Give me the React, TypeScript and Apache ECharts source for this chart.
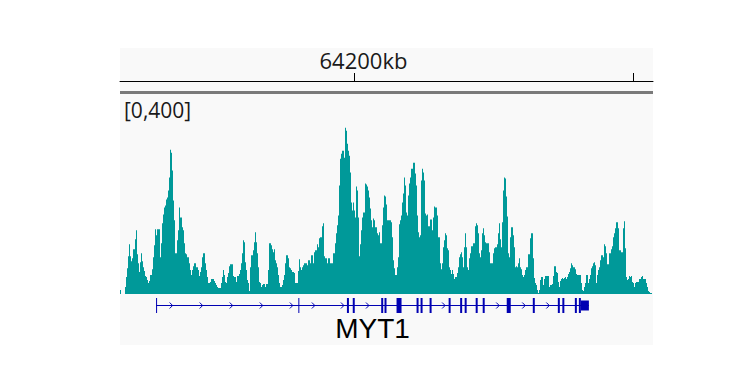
import { useEffect, useRef } from "react";
import * as echarts from "echarts";

// ---- genomic view ----
const viewStartKb = 64183.165;
const viewEndKb = 64221.438;
const rulerTicksKb = [64200, 64220];
const rulerTickLabels = ["64200kb", "64220kb"];

// ---- coverage track ----
const dataRange = [0, 400];
const coverage = [
  8, 0, 0, 0, 0, 14, 34, 52, 76, 100,
  76, 66, 72, 90, 90, 110, 128, 80, 62, 44,
  64, 82, 66, 54, 46, 36, 34, 28, 22, 26,
  38, 38, 50, 74, 98, 130, 118, 130, 130, 130,
  74, 102, 142, 160, 174, 178, 190, 194, 208, 234,
  290, 284, 248, 188, 148, 82, 82, 108, 128, 174,
  154, 154, 134, 128, 102, 82, 80, 74, 74, 62,
  48, 38, 48, 56, 62, 62, 54, 54, 48, 36,
  44, 54, 74, 82, 82, 62, 48, 34, 22, 22,
  24, 30, 30, 30, 26, 22, 18, 14, 12, 12,
  12, 22, 34, 48, 38, 24, 22, 34, 42, 56,
  60, 60, 60, 36, 34, 34, 24, 36, 36, 40,
  48, 62, 82, 108, 104, 64, 48, 28, 22, 6,
  54, 78, 78, 88, 104, 124, 104, 82, 54, 24,
  22, 14, 18, 20, 20, 14, 20, 20, 48, 102,
  102, 98, 90, 84, 90, 68, 62, 54, 38, 22,
  14, 14, 18, 28, 38, 62, 78, 78, 72, 54,
  52, 48, 44, 44, 42, 22, 22, 22, 46, 70,
  54, 48, 54, 58, 62, 62, 62, 58, 68, 68,
  62, 78, 78, 62, 84, 88, 88, 100, 94, 112,
  114, 114, 136, 142, 76, 72, 72, 62, 72, 72,
  62, 62, 62, 82, 82, 102, 122, 138, 158, 218,
  272, 282, 288, 288, 274, 334, 328, 302, 288, 278,
  244, 184, 168, 184, 168, 154, 216, 208, 154, 76,
  100, 128, 154, 164, 164, 222, 220, 216, 208, 194,
  172, 148, 134, 152, 148, 134, 134, 122, 118, 124,
  102, 102, 138, 174, 198, 196, 180, 148, 148, 148,
  148, 144, 114, 68, 52, 38, 38, 54, 74, 140,
  148, 158, 184, 202, 234, 218, 164, 158, 198, 222,
  234, 252, 252, 264, 264, 242, 218, 158, 124, 114,
  118, 228, 252, 244, 228, 162, 158, 160, 136, 136,
  150, 150, 128, 154, 176, 174, 174, 158, 114, 114,
  62, 50, 62, 94, 108, 122, 118, 92, 88, 54,
  48, 40, 48, 40, 30, 34, 34, 42, 54, 74,
  80, 84, 74, 54, 94, 122, 94, 54, 48, 72,
  82, 96, 96, 102, 102, 136, 142, 138, 122, 82,
  74, 88, 122, 132, 118, 104, 102, 102, 102, 84,
  62, 62, 62, 82, 92, 94, 94, 100, 122, 142,
  110, 94, 144, 208, 234, 232, 196, 156, 82, 74,
  114, 134, 134, 118, 94, 54, 56, 54, 62, 72,
  54, 50, 38, 34, 38, 48, 54, 54, 80, 80,
  112, 122, 122, 72, 32, 22, 18, 8, 2, 8,
  28, 34, 34, 18, 30, 36, 36, 36, 36, 14,
  18, 18, 20, 36, 56, 56, 44, 42, 24, 14,
  26, 30, 32, 30, 32, 34, 30, 34, 40, 44,
  52, 62, 58, 54, 54, 50, 40, 38, 38, 38,
  38, 22, 8, 6, 14, 22, 38, 38, 22, 30,
  38, 52, 56, 62, 64, 58, 22, 38, 48, 54,
  68, 78, 78, 74, 100, 96, 82, 60, 60, 82,
  82, 90, 96, 114, 122, 132, 144, 144, 132, 88,
  88, 84, 84, 132, 146, 92, 34, 28, 30, 36,
  34, 36, 24, 22, 14, 22, 24, 24, 24, 30,
  30, 34, 36, 30, 30, 30, 22, 14, 6, 4,
  2, 2,
];
const coverageBins = coverage.map((_, i) => String(i));

// ---- gene track ----
const geneName = "MYT1";
const geneSpanKb = [64185.755, 64216.835];
const exonStartKb = [
  64185.755, 64195.971, 64199.46, 64199.878, 64201.921, 64202.158, 64203.022,
  64204.46, 64204.748, 64205.396, 64206.763, 64207.59, 64207.914, 64208.705,
  64209.209, 64210.935, 64212.806, 64214.604, 64214.928, 64215.827, 64216.115,
  64216.259,
];
const exonEndKb = [
  64185.827, 64196.043, 64199.604, 64200.022, 64202.065, 64202.302, 64203.381,
  64204.604, 64204.892, 64205.54, 64206.906, 64207.734, 64208.058, 64208.849,
  64209.353, 64211.223, 64212.95, 64214.748, 64215.072, 64215.971, 64216.259,
  64216.835,
];
const exonIsUtr = [
  false, false, false, false, false, false, false, false, false, false, false,
  false, false, false, false, false, false, false, false, false, false, true,
];
const strandArrowsKb = [
  64186.835, 64188.993, 64191.151, 64193.309, 64195.468, 64197.05, 64199.137,
  64200.935, 64206.403, 64210.288, 64212.158, 64213.885,
];

const TEAL = "#009999";
const BLUE = "#0000b2";

export default function App() {
  const ref = useRef<HTMLDivElement>(null);

  useEffect(() => {
    if (!ref.current) return;
    const chart = echarts.init(ref.current, undefined, { renderer: "svg" });

    const hiddenValueAxis = (gridIndex: number, min: number, max: number) => ({
      type: "value",
      gridIndex,
      min,
      max,
      show: false,
    });

    const option: any = {
      animation: false,
      backgroundColor: "#ffffff",
      graphic: [
        {
          type: "rect",
          z: -10,
          silent: true,
          shape: { x: 120, y: 48, width: 533, height: 297 },
          style: { fill: "#f9f9f9" },
        },
        {
          type: "rect",
          z: 10,
          silent: true,
          shape: { x: 120, y: 91, width: 533, height: 3 },
          style: { fill: "#7a7a7a" },
        },
        {
          type: "text",
          z: 10,
          x: 124,
          y: 99,
          style: {
            text: `[${dataRange[0]},${dataRange[1]}]`,
            font: '21px "Open Sans"',
            fill: "#1a1a1a",
            verticalAlign: "top",
          },
        },
      ],
      grid: [
        { left: 120, width: 533, top: 48, height: 33 },
        { left: 120, width: 532, top: 95, height: 199 },
        { left: 120, width: 533, top: 296, height: 49 },
      ],
      xAxis: [
        {
          type: "value",
          gridIndex: 0,
          min: viewStartKb,
          max: viewEndKb,
          axisLine: { show: true, onZero: false, lineStyle: { color: "#000", width: 1 } },
          axisTick: { show: false },
          axisLabel: { show: false },
          splitLine: { show: false },
        },
        {
          type: "category",
          gridIndex: 1,
          data: coverageBins,
          show: false,
        },
        hiddenValueAxis(2, viewStartKb, viewEndKb),
      ],
      yAxis: [
        hiddenValueAxis(0, 0, 1),
        hiddenValueAxis(1, dataRange[0], dataRange[1]),
        hiddenValueAxis(2, 0, 1),
      ],
      series: [
        {
          type: "custom",
          xAxisIndex: 0,
          yAxisIndex: 0,
          data: rulerTicksKb.map((t, i) => [t, i]),
          renderItem: (params: any, api: any) => {
            const x = Math.round(api.coord([api.value(0), 0])[0]) + 0.5;
            const cs = params.coordSys;
            const bottom = cs.y + cs.height;
            const label = rulerTickLabels[api.value(1)];
            const children: any[] = [
              {
                type: "line",
                shape: { x1: x, y1: bottom - 8, x2: x, y2: bottom },
                style: { stroke: "#000", lineWidth: 1 },
              },
            ];
            if (x + 9 + 46 < cs.x + cs.width) {
              children.push({
                type: "text",
                style: {
                  text: label,
                  x: x + 9,
                  y: cs.y + 12,
                  align: "center",
                  verticalAlign: "middle",
                  font: '22px "Open Sans"',
                  fill: "#1a1a1a",
                },
              });
            }
            return { type: "group", children };
          },
        },
        {
          type: "bar",
          xAxisIndex: 1,
          yAxisIndex: 1,
          data: coverage,
          barCategoryGap: "0%",
          barGap: "0%",
          itemStyle: { color: TEAL },
          silent: true,
        },
        {
          type: "custom",
          xAxisIndex: 2,
          yAxisIndex: 2,
          data: [[geneSpanKb[0], geneSpanKb[1]]],
          renderItem: (params: any, api: any) => {
            const x0 = api.coord([api.value(0), 0])[0];
            const x1 = api.coord([api.value(1), 0])[0];
            const cs = params.coordSys;
            const y = cs.y + 9.5;
            return {
              type: "group",
              children: [
                {
                  type: "line",
                  shape: { x1: x0, y1: y, x2: x1, y2: y },
                  style: { stroke: BLUE, lineWidth: 1 },
                },
                {
                  type: "text",
                  style: {
                    text: geneName,
                    x: (x0 + x1) / 2,
                    y: cs.y + 32,
                    align: "center",
                    verticalAlign: "middle",
                    font: '28px "Liberation Sans"',
                    fill: "#000",
                  },
                },
              ],
            };
          },
        },
        {
          type: "custom",
          xAxisIndex: 2,
          yAxisIndex: 2,
          data: strandArrowsKb.map((p) => [p, 0]),
          renderItem: (params: any, api: any) => {
            const x = api.coord([api.value(0), 0])[0];
            const y = params.coordSys.y + 9.5;
            return {
              type: "polyline",
              shape: { points: [[x - 1.5, y - 3], [x + 1.5, y], [x - 1.5, y + 3]] },
              style: { stroke: BLUE, lineWidth: 1, fill: "none" },
            };
          },
        },
        {
          type: "custom",
          xAxisIndex: 2,
          yAxisIndex: 2,
          data: exonStartKb.map((s, i) => [s, exonEndKb[i], exonIsUtr[i] ? 1 : 0]),
          renderItem: (params: any, api: any) => {
            const x0 = api.coord([api.value(0), 0])[0];
            const x1 = api.coord([api.value(1), 0])[0];
            const utr = api.value(2) === 1;
            const cs = params.coordSys;
            const top = cs.y + (utr ? 4.5 : 2);
            const h = utr ? 10 : 15;
            return {
              type: "rect",
              shape: { x: x0, y: top, width: Math.max(1, x1 - x0), height: h },
              style: { fill: BLUE },
            };
          },
        },
      ],
    };

    chart.setOption(option);
    return () => chart.dispose();
  }, []);

  return (
    <div
      ref={ref}
      style={{ position: "absolute", left: 0, top: 0, width: 756, height: 378 }}
    />
  );
}
